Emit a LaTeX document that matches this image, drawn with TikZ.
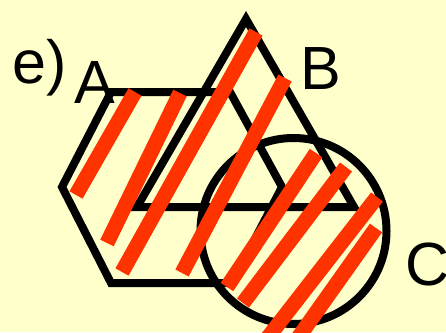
\documentclass[tikz,border=0pt]{standalone}
\usepackage{fontspec}
\setmainfont{Liberation Sans}
\definecolor{paper}{HTML}{FFFFCC}
\definecolor{hatchred}{HTML}{FF3300}

\begin{document}
\begin{tikzpicture}[x=1pt, y=-1pt,
	outline/.style={line width=8pt, draw=black},
	hatch/.style={line width=15pt, draw=hatchred},
	letter/.style={anchor=base west, inner sep=0pt, font=\fontsize{61}{63}\selectfont}]
		% --- TŁO ---
		\fill[paper] (0,0) rectangle (446,332);
		\useasboundingbox (0,0) rectangle (446,332);
		\clip (0,0) rectangle (446,332);
		
		% Sześciokąt (A)
		\draw[outline] (62,187) -- (111,92) -- (230,92) -- (282,187) -- (232,283) -- (111,283) -- cycle;
		
		% Trójkąt (B)
		\draw[outline] (246,19) -- (354,207) -- (137,207) -- cycle;
		
		% Koło (C)
		\draw[outline] (293.5,231) circle (93);
		
		% --- Paski (część wspólna) ---
		\draw[hatch] (76,195) -- (135,92);
		\draw[hatch] (107,243) -- (180,93);
		\draw[hatch] (122,272) -- (256,32);
		\draw[hatch] (182,273) -- (285,78);
		\draw[hatch] (227,287) -- (316,153);
		\draw[hatch] (243,303) -- (346,167);
		\draw[hatch] (262,345) -- (377,197);
		\draw[hatch] (293,345) -- (376,228);
		
		% --- Etykiety ---
		\node[letter] (lblE) at (12,83) {e)};
		\node[letter] (lblA) at (74,103) {A};
		\node[letter] (lblB) at (300,89) {B};
		\node[letter] (lblC) at (405,285) {C};
		
	\end{tikzpicture}
\end{document}
